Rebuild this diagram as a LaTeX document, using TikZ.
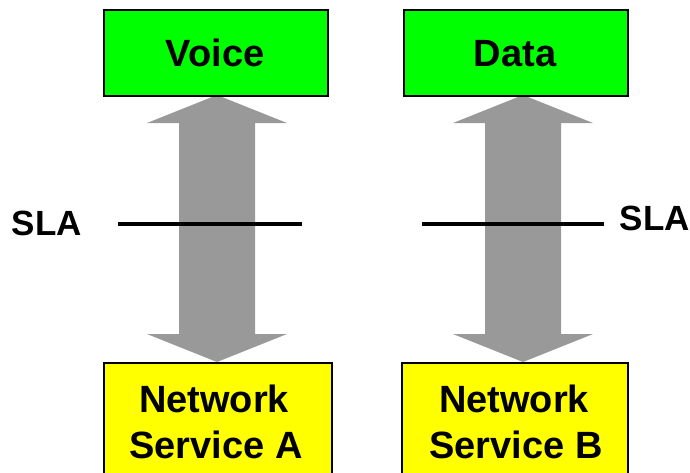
\documentclass[tikz,border=0pt]{standalone}
\usepackage{fontspec}
\setmainfont{Liberation Sans}
\definecolor{boxgreen}{RGB}{0,255,0}
\definecolor{boxyellow}{RGB}{255,255,0}
\definecolor{arrowgray}{RGB}{153,153,153}
\begin{document}
\begin{tikzpicture}[x=1pt,y=1pt,
  box/.style={draw=black, line width=1.5pt, inner sep=0pt, anchor=north west},
  boxtext/.style={font=\bfseries\fontsize{38}{46}\selectfont, inner sep=0pt, align=center},
  slatext/.style={font=\bfseries\fontsize{35}{40}\selectfont, inner sep=0pt},
  slaline/.style={line width=3.5pt, black},
  dblarrow/.pic={\fill[arrowgray] (0,0) -- (70,-28) -- (38,-28) -- (38,-239) -- (70,-239)
      -- (0,-267) -- (-70,-239) -- (-38,-239) -- (-38,-28) -- (-70,-28) -- cycle;}]
\clip (0,0) rectangle (690,-472);
\useasboundingbox (0,0) rectangle (690,-472);
% double arrows
\pic at (217,-95) {dblarrow};
\pic at (523,-95) {dblarrow};
% boxes
\node[box, fill=boxgreen, minimum width=224pt, minimum height=86pt] (voice) at (103,-9) {};
\node[box, fill=boxgreen, minimum width=224pt, minimum height=86pt] (data) at (403,-9) {};
\node[box, fill=boxyellow, minimum width=228pt, minimum height=140pt] (nsa) at (103,-362) {};
\node[box, fill=boxyellow, minimum width=226pt, minimum height=140pt] (nsb) at (401,-362) {};
% box texts
\node[boxtext, anchor=base] (voicet) at (215,-66) {Voice};
\node[boxtext, anchor=base] (datat) at (515,-66) {Data};
\node[boxtext, anchor=base] (nsat1) at (214,-412) {Network};
\node[boxtext, anchor=base] (nsat2) at (216,-458) {Service A};
\node[boxtext, anchor=base] (nsbt1) at (514,-412) {Network};
\node[boxtext, anchor=base] (nsbt2) at (516,-458) {Service B};
% SLA lines
\coordinate (la) at (118,-224);
\coordinate (lb) at (302,-224);
\coordinate (ra) at (422,-224);
\coordinate (rb) at (604,-224);
\draw[slaline] (la) -- (lb);
\draw[slaline] (ra) -- (rb);
\node[slatext, anchor=base west] (slal) at (11.5,-235) {SLA};
\node[slatext, anchor=base west] (slar) at (619.5,-230) {SLA};
\end{tikzpicture}
\end{document}
